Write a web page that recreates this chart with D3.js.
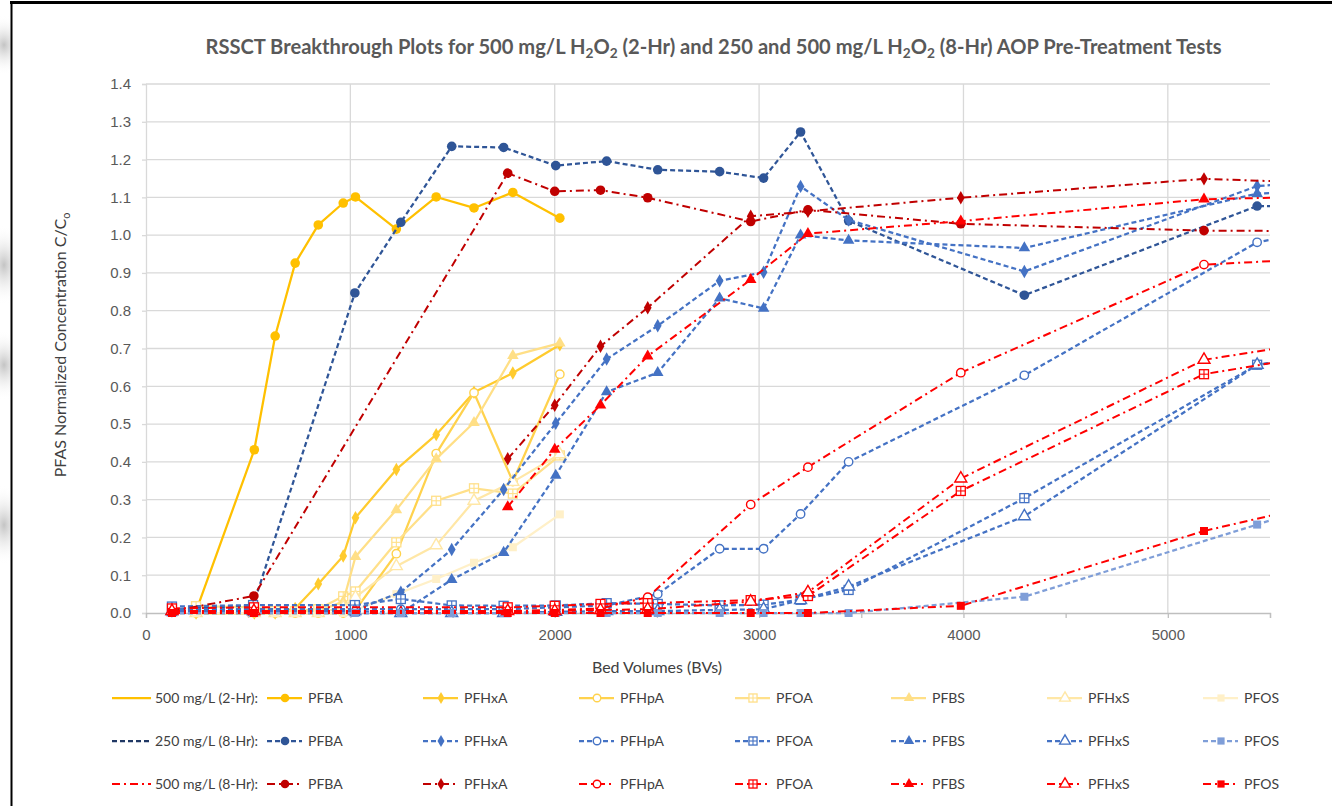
<!DOCTYPE html>
<html><head><meta charset="utf-8">
<script src="https://cdn.jsdelivr.net/npm/d3@7"></script>
<style>body{margin:0;background:#fff;} svg{display:block;}</style>
</head><body><svg id="c" width="1332" height="806"></svg>
<script>
// ---------------- DATA ----------------
const COMPOUNDS = ["PFBA","PFHxA","PFHpA","PFOA","PFBS","PFHxS","PFOS"];
const MARKERS   = ["circle","diamond","circleOpen","squareCross","triangle","triangleOpen","square"];

// 500 mg/L H2O2 (2-Hr)
const BV_2H    = [245, 530, 632, 730, 843, 965, 1025, 1225, 1420, 1605, 1795, 2025];
const H2_PFBA  = [0.005, 0.432, 0.733, 0.926, 1.027, 1.085, 1.101, 1.016, 1.101, 1.072, 1.113, 1.045];
const H2_PFHxA = [0.0, 0.0, 0.0, 0.012, 0.077, 0.151, 0.252, 0.380, 0.472, 0.584, 0.635, 0.710];
const H2_PFHpA = [0.0, 0.0, 0.0, 0.0, 0.0, 0.0, 0.008, 0.157, 0.422, 0.583, 0.348, 0.632];
const H2_PFOA  = [0.018, 0.015, 0.005, 0.005, 0.010, 0.044, 0.057, 0.187, 0.297, 0.330, 0.316, 0.417];
const H2_PFBS  = [0.0, 0.0, 0.0, 0.0, 0.005, 0.030, 0.149, 0.273, 0.408, 0.504, 0.681, 0.714];
const H2_PFHxS = [0.0, 0.0, 0.0, 0.0, 0.0, 0.015, 0.042, 0.124, 0.179, 0.297, 0.347, 0.420];
const H2_PFOS  = [0.0, 0.0, 0.0, 0.0, 0.0, 0.0, 0.008, 0.050, 0.090, 0.133, 0.174, 0.261];

// 250 mg/L H2O2 (8-Hr)  (last point lies beyond the 5500 axis maximum)
const BV_250   = [127, 524, 1022, 1247, 1496, 1750, 2005, 2254, 2504, 2807, 3022, 3203, 3438, 4298, 5437, 6000];
const B_PFBA   = [0.010, 0.020, 0.847, 1.034, 1.235, 1.232, 1.184, 1.196, 1.173, 1.168, 1.151, 1.273, 1.038, 0.841, 1.077, 1.077];
const B_PFHxA  = [0.005, 0.010, 0.008, 0.055, 0.168, 0.327, 0.502, 0.672, 0.760, 0.879, 0.902, 1.129, 1.040, 0.904, 1.130, 1.150];
const B_PFHpA  = [0.010, 0.010, 0.010, 0.010, 0.010, 0.010, 0.015, 0.020, 0.050, 0.170, 0.170, 0.262, 0.400, 0.629, 0.981, 1.040];
const B_PFOA   = [0.017, 0.021, 0.021, 0.037, 0.020, 0.019, 0.020, 0.026, 0.024, 0.020, 0.022, 0.035, 0.061, 0.304, 0.657, 0.700];
const B_PFBS   = [0.0, 0.0, 0.0, 0.0, 0.088, 0.160, 0.364, 0.585, 0.636, 0.833, 0.806, 1.000, 0.986, 0.966, 1.110, 1.120];
const B_PFHxS  = [0.005, 0.005, 0.005, 0.0, 0.0, 0.0, 0.003, 0.005, 0.005, 0.008, 0.010, 0.034, 0.070, 0.256, 0.657, 0.700];
const B_PFOS   = [0.0, 0.0, 0.0, 0.0, 0.0, 0.0, 0.0, 0.0, 0.0, 0.0, 0.0, 0.0, 0.0, 0.043, 0.234, 0.330];

// 500 mg/L H2O2 (8-Hr)  (last point lies beyond the 5500 axis maximum)
const BV_500   = [127, 528, 1770, 2000, 2224, 2455, 2959, 3239, 3987, 5177, 6000];
const R_PFBA   = [0.005, 0.045, 1.164, 1.116, 1.119, 1.099, 1.036, 1.067, 1.030, 1.012, 1.010];
const R_PFHxA  = [null, null, 0.408, 0.550, 0.706, 0.808, 1.050, 1.063, 1.099, 1.149, 1.134];
const R_PFHpA  = [0.005, 0.005, 0.005, 0.008, 0.012, 0.042, 0.287, 0.386, 0.636, 0.922, 0.945];
const R_PFOA   = [0.012, 0.015, 0.015, 0.019, 0.024, 0.026, 0.034, 0.045, 0.323, 0.632, 0.706];
const R_PFBS   = [null, null, 0.281, 0.433, 0.550, 0.680, 0.882, 1.004, 1.037, 1.095, 1.105];
const R_PFHxS  = [0.005, 0.005, 0.005, 0.005, 0.008, 0.010, 0.030, 0.055, 0.356, 0.670, 0.740];
const R_PFOS   = [0.0, 0.0, 0.0, 0.0, 0.0, 0.0, 0.0, 0.0, 0.019, 0.217, 0.320];

const GROUP_LABELS = ["500 mg/L (2-Hr):", "250 mg/L (8-Hr):", "500 mg/L (8-Hr):"];
const Y_TICKS = [0.0,0.1,0.2,0.3,0.4,0.5,0.6,0.7,0.8,0.9,1.0,1.1,1.2,1.3,1.4];
const X_TICKS = [0,500,1000,1500,2000,2500,3000,3500,4000,4500,5000,5500];

// ---------------- STYLE ----------------
const COL_2H  = ["#FFC000","#FFCB2E","#FFD24D","#FFE08A","#FFDF86","#FFE7A6","#FFF0C8"];
const COL_250 = ["#2F5597","#4472C4","#4472C4","#4472C4","#4472C4","#4472C4","#7F9ED8"];
const COL_500 = ["#C00000","#C00000","#FF0000","#FF0000","#FF0000","#FF0000","#FF0000"];
const GROUP_SAMPLE = ["#FFC000","#203864","#FF0000"];
const DASH = [null, "5,3", "8,4,2,4"];
const LW = [2.25, 2.25, 2.0];

const FONT = 'Lato,"Open Sans",sans-serif';
const TICKFONT = '"Liberation Sans","DejaVu Sans",sans-serif';

const svg = d3.select('#c');
const defs = svg.append('defs');

// background decoration (outside chart frame)
const rg = defs.append('radialGradient').attr('id','blob');
rg.append('stop').attr('offset','0%').attr('stop-color','#bdbdbd').attr('stop-opacity',0.9);
rg.append('stop').attr('offset','100%').attr('stop-color','#ffffff').attr('stop-opacity',0);
defs.append('clipPath').attr('id','leftstrip').append('rect').attr('x',0).attr('y',0).attr('width',11).attr('height',806);
const deco = svg.append('g').attr('clip-path','url(#leftstrip)');
[[45,30],[265,40],[365,35],[525,40]].forEach(([cy,ry])=>{
  deco.append('ellipse').attr('cx',4).attr('cy',cy).attr('rx',22).attr('ry',ry).attr('fill','url(#blob)');
});
// frame
svg.append('line').attr('x1',10).attr('x2',1332).attr('y1',2.5).attr('y2',2.5).attr('stroke','#000').attr('stroke-width',3);
svg.append('line').attr('x1',11.5).attr('x2',11.5).attr('y1',1).attr('y2',806).attr('stroke','#000').attr('stroke-width',2);

// ---------------- SCALES ----------------
const X = d3.scaleLinear().domain([0,5500]).range([146,1270]);
const Y = d3.scaleLinear().domain([0,1.4]).range([613,84]);

// gridlines
const grid = svg.append('g');
grid.selectAll('line.h').data(Y_TICKS.filter(v=>v>0)).join('line')
  .attr('x1',X(0)).attr('x2',X(5500)).attr('y1',d=>Y(d)).attr('y2',d=>Y(d))
  .attr('stroke','#D9D9D9').attr('stroke-width',1.3);
grid.selectAll('line.v').data(X_TICKS.filter(v=>v>0 && v%1000===0)).join('line')
  .attr('x1',d=>X(d)).attr('x2',d=>X(d)).attr('y1',Y(0)).attr('y2',Y(1.4))
  .attr('stroke','#D9D9D9').attr('stroke-width',1.3);

// axes
const yAx = svg.append('g').attr('transform',`translate(${X(0)},0)`)
  .call(d3.axisLeft(Y).tickValues(Y_TICKS).tickFormat(d3.format('.1f')).tickSize(4).tickPadding(11));
yAx.select('.domain').attr('stroke','#D9D9D9').attr('stroke-width',1.3);
yAx.selectAll('.tick line').attr('stroke','#D9D9D9').attr('stroke-width',1.3);
yAx.selectAll('.tick text').attr('fill','#595959').attr('font-size',15).attr('font-family',TICKFONT);

const xAx = svg.append('g').attr('transform',`translate(0,${Y(0)})`)
  .call(d3.axisBottom(X).tickValues(X_TICKS).tickFormat(d=>d%1000===0?String(d):'').tickSize(5).tickPadding(11));
xAx.select('.domain').attr('stroke','#BFBFBF').attr('stroke-width',1.3);
xAx.selectAll('.tick line').attr('stroke','#BFBFBF').attr('stroke-width',1.3);
xAx.selectAll('.tick text').attr('fill','#595959').attr('font-size',15).attr('font-family',TICKFONT);

// ---------------- MARKERS ----------------
function drawMarker(g, type, color, cx, cy, scale) {
  const s = scale || 1;
  const t = `translate(${cx},${cy})`;
  if (type === 'circle') {
    g.append('circle').attr('cx',cx).attr('cy',cy).attr('r',4.8*s).attr('fill',color);
  } else if (type === 'circleOpen') {
    g.append('circle').attr('cx',cx).attr('cy',cy).attr('r',4.2*s).attr('fill','#fff').attr('stroke',color).attr('stroke-width',1.4);
  } else if (type === 'diamond') {
    g.append('path').attr('transform',t).attr('d',d3.symbol(d3.symbolDiamond, 52*s*s)()).attr('fill',color);
  } else if (type === 'triangle') {
    g.append('path').attr('transform',t).attr('d',d3.symbol(d3.symbolTriangle, 58*s*s)()).attr('fill',color);
  } else if (type === 'triangleOpen') {
    g.append('path').attr('transform',t).attr('d',d3.symbol(d3.symbolTriangle, 62*s*s)()).attr('fill','#fff').attr('stroke',color).attr('stroke-width',1.4);
  } else if (type === 'square') {
    const h = 4*s;
    g.append('rect').attr('x',cx-h).attr('y',cy-h).attr('width',2*h).attr('height',2*h).attr('fill',color);
  } else if (type === 'squareCross') {
    const h = 4.5*s;
    g.append('rect').attr('x',cx-h).attr('y',cy-h).attr('width',2*h).attr('height',2*h).attr('fill','#fff').attr('stroke',color).attr('stroke-width',1.3);
    g.append('line').attr('x1',cx-h).attr('x2',cx+h).attr('y1',cy).attr('y2',cy).attr('stroke',color).attr('stroke-width',1.1);
    g.append('line').attr('x1',cx).attr('x2',cx).attr('y1',cy-h).attr('y2',cy+h).attr('stroke',color).attr('stroke-width',1.1);
  }
}

// ---------------- SERIES ----------------
defs.append('clipPath').attr('id','plotclip').append('rect')
  .attr('x',0).attr('y',0).attr('width',X(5500)).attr('height',806);

const groups = [
  {bv: BV_2H,  vals: [H2_PFBA,H2_PFHxA,H2_PFHpA,H2_PFOA,H2_PFBS,H2_PFHxS,H2_PFOS], colors: COL_2H},
  {bv: BV_250, vals: [B_PFBA,B_PFHxA,B_PFHpA,B_PFOA,B_PFBS,B_PFHxS,B_PFOS],        colors: COL_250},
  {bv: BV_500, vals: [R_PFBA,R_PFHxA,R_PFHpA,R_PFOA,R_PFBS,R_PFHxS,R_PFOS],        colors: COL_500},
];

const plot = svg.append('g');
groups.forEach((grp, gi) => {
  grp.vals.forEach((arr, si) => {
    const pts = grp.bv.map((b,i)=>({x:b, y:arr[i]}));
    const line = d3.line().defined(d=>d.y!=null).x(d=>X(d.x)).y(d=>Y(d.y));
    const g = plot.append('g');
    g.append('path').attr('d', line(pts)).attr('clip-path','url(#plotclip)')
      .attr('fill','none').attr('stroke', grp.colors[si]).attr('stroke-width', LW[gi])
      .attr('stroke-dasharray', DASH[gi]).attr('stroke-linejoin','round');
    pts.filter(d=>d.y!=null && d.x<=5500).forEach(d=>drawMarker(g, MARKERS[si], grp.colors[si], X(d.x), Y(d.y)));
  });
});

// ---------------- TEXT ----------------
function fit(sel, w) {
  const cur = sel.node().getComputedTextLength();
  const fs = parseFloat(sel.attr('font-size'));
  sel.attr('font-size', (fs*w/cur).toFixed(2));
}

const title = svg.append('text').attr('x',713.5).attr('y',54).attr('text-anchor','middle')
  .attr('font-family',FONT).attr('font-weight','bold').attr('font-size',17).attr('fill','#595959');
const tparts = [["RSSCT Breakthrough Plots for 500 mg/L H",0],["2",1],["O",0],["2",1],[" (2-Hr) and 250 and 500 mg/L H",0],["2",1],["O",0],["2",1],[" (8-Hr) AOP Pre-Treatment Tests",0]];
let prevSub = false;
tparts.forEach(([t,sub])=>{
  const ts = title.append('tspan').text(t);
  if (sub) { ts.attr('font-size','0.68em').attr('dy', 4); prevSub = true; }
  else if (prevSub) { ts.attr('dy', -4); prevSub = false; }
});
fit(title, 1017);

const yt = svg.append('text').attr('transform','translate(66,345) rotate(-90)').attr('text-anchor','middle')
  .attr('font-family',FONT).attr('font-size',16).attr('fill','#404040');
yt.append('tspan').text('PFAS Normalized Concentration C/C');
yt.append('tspan').text('o').attr('font-size','0.68em').attr('dy',4);

const xt = svg.append('text').attr('x',657).attr('y',673).attr('text-anchor','middle')
  .attr('font-family',FONT).attr('font-size',16).attr('fill','#404040').text('Bed Volumes (BVs)');

// ---------------- LEGEND ----------------
const ROW_Y = [698, 741, 784];
const leg = svg.append('g');
const legFont = 14;
groups.forEach((grp, gi) => {
  const y = ROW_Y[gi];
  leg.append('line').attr('x1',112).attr('x2',151).attr('y1',y).attr('y2',y)
    .attr('stroke',GROUP_SAMPLE[gi]).attr('stroke-width',LW[gi]).attr('stroke-dasharray',DASH[gi]);
  leg.append('text').attr('x',155).attr('y',y).attr('dy','0.35em').attr('font-family',FONT)
    .attr('font-size',legFont).attr('fill','#404040').text(GROUP_LABELS[gi]);
  COMPOUNDS.forEach((c, si) => {
    const tx = 308 + 156*si;
    const g = leg.append('g');
    g.append('line').attr('x1',tx-41).attr('x2',tx-6).attr('y1',y).attr('y2',y)
      .attr('stroke',grp.colors[si]).attr('stroke-width',LW[gi]).attr('stroke-dasharray',DASH[gi]);
    drawMarker(g, MARKERS[si], grp.colors[si], tx-23, y, 0.9);
    g.append('text').attr('x',tx).attr('y',y).attr('dy','0.35em').attr('font-family',FONT)
      .attr('font-size',legFont).attr('fill','#404040').text(c);
  });
});
</script></body></html>
